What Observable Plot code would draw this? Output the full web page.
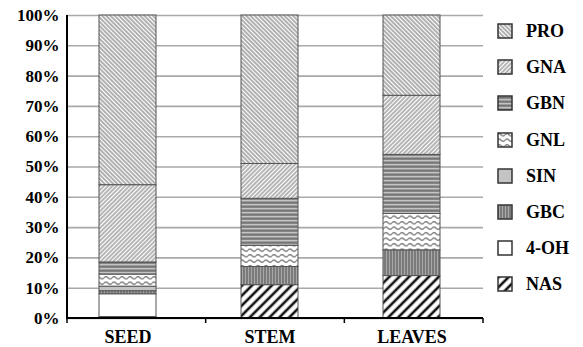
<!DOCTYPE html>
<html>
<head>
<meta charset="utf-8">
<script src="https://cdn.jsdelivr.net/npm/d3@7"></script>
<script src="https://cdn.jsdelivr.net/npm/@observablehq/plot@0.6"></script>
<style>
  html, body { margin: 0; padding: 0; background: #fff; }
  #wrap { position: relative; width: 583px; height: 347px; overflow: hidden; font-family: "Liberation Serif", "Times New Roman", serif; }
  #legend { position: absolute; left: 0; top: 0; }
  .item { position: absolute; display: flex; align-items: center; height: 20px; white-space: nowrap; }
  .item span { font-weight: bold; font-size: 18px; color: #000; margin-left: 13px; line-height: 20px; white-space: nowrap; }
</style>
</head>
<body>
<svg width="0" height="0" style="position:absolute">
  <defs>
    <pattern id="p-PRO" patternUnits="userSpaceOnUse" width="3" height="3" patternTransform="rotate(-45)">
      <rect width="3" height="3" fill="#fff"/>
      <line x1="1" y1="0" x2="1" y2="3" stroke="#707070" stroke-width="1.1"/>
    </pattern>
    <pattern id="p-GNA" patternUnits="userSpaceOnUse" width="3" height="3" patternTransform="rotate(45)">
      <rect width="3" height="3" fill="#fff"/>
      <line x1="1" y1="0" x2="1" y2="3" stroke="#7a7a7a" stroke-width="1.1"/>
    </pattern>
    <pattern id="p-GBN" patternUnits="userSpaceOnUse" width="4" height="4">
      <rect width="4" height="4" fill="#8f8f8f"/>
      <line x1="0" y1="0.7" x2="4" y2="0.7" stroke="#d8d8d8" stroke-width="0.9"/>
      <line x1="0" y1="2.8" x2="4" y2="2.8" stroke="#666" stroke-width="0.9"/>
    </pattern>
    <pattern id="p-GNL" patternUnits="userSpaceOnUse" width="8" height="5.5">
      <rect width="8" height="5.5" fill="#fff"/>
      <path d="M0 2.75 Q2 0.5 4 2.75 T8 2.75" fill="none" stroke="#777" stroke-width="1.3"/>
    </pattern>
    <pattern id="p-SIN" patternUnits="userSpaceOnUse" width="4" height="4">
      <rect width="4" height="4" fill="#c4c4c4"/>
    </pattern>
    <pattern id="p-GBC" patternUnits="userSpaceOnUse" width="3" height="3">
      <rect width="3" height="3" fill="#a8a8a8"/>
      <line x1="1" y1="0" x2="1" y2="3" stroke="#555" stroke-width="1.1"/>
    </pattern>
    <pattern id="p-4-OH" patternUnits="userSpaceOnUse" width="4" height="4">
      <rect width="4" height="4" fill="#fff"/>
    </pattern>
    <pattern id="p-NAS" patternUnits="userSpaceOnUse" width="7" height="7" patternTransform="rotate(45)">
      <rect width="7" height="7" fill="#fff"/>
      <line x1="2" y1="0" x2="2" y2="7" stroke="#111" stroke-width="2.6"/>
    </pattern>
  </defs>
</svg>
<div id="wrap"><div id="chart"></div><div id="legend"></div></div>
<script>
// ---- data ----
const categories = ["SEED", "STEM", "LEAVES"];
const compounds = ["NAS", "4-OH", "GBC", "SIN", "GNL", "GBN", "GNA", "PRO"]; // bottom to top
const seedValues   = [0.5, 7.5, 1, 1.5, 4, 4, 25.5, 56];
const stemValues   = [11, 0, 6, 0, 7, 15.5, 11.5, 49];
const leavesValues = [14, 0, 8.5, 0, 12, 19.5, 19.5, 26.5];
const yTicks = [0, 10, 20, 30, 40, 50, 60, 70, 80, 90, 100];
const yTickLabels = ["0%", "10%", "20%", "30%", "40%", "50%", "60%", "70%", "80%", "90%", "100%"];
const legendOrder = ["PRO", "GNA", "GBN", "GNL", "SIN", "GBC", "4-OH", "NAS"];

const seriesByCategory = [seedValues, stemValues, leavesValues];
const rows = [];
categories.forEach((cat, i) => {
  compounds.forEach((c, j) => {
    const v = seriesByCategory[i][j];
    if (v > 0) rows.push({part: cat, compound: c, value: v});
  });
});
const patternOf = c => `url(#p-${c})`;

// custom axis lines and category ticks (drawn from the plot frame)
function axisLines(index, scales, values, dim) {
  const g = d3.create("svg:g");
  const x0 = dim.marginLeft, x1 = dim.width - dim.marginRight;
  const y0 = dim.marginTop, y1 = dim.height - dim.marginBottom;
  g.append("line").attr("x1", x0).attr("x2", x0).attr("y1", y0).attr("y2", y1 + 1)
    .attr("stroke", "#000").attr("stroke-width", 2);
  g.append("line").attr("x1", x0 - 1).attr("x2", x1).attr("y1", y1).attr("y2", y1)
    .attr("stroke", "#000").attr("stroke-width", 2);
  const n = categories.length;
  for (let i = 0; i <= n; i++) {
    const x = x0 + i * (x1 - x0) / n;
    g.append("line").attr("x1", x).attr("x2", x).attr("y1", y1).attr("y2", y1 + 5)
      .attr("stroke", "#000").attr("stroke-width", 1.5);
  }
  return g.node();
}

const chart = Plot.plot({
  width: 583,
  height: 347,
  marginTop: 15,
  marginBottom: 29,
  marginLeft: 67,
  marginRight: 100,
  style: {fontFamily: "'Liberation Serif', 'Times New Roman', serif", fontWeight: "bold", fontSize: "17px", color: "#000", background: "transparent"},
  x: {domain: categories, paddingInner: 0.6, paddingOuter: 0.255, align: 0.425, label: null},
  y: {domain: [0, 100], label: null},
  color: {type: "ordinal", domain: compounds, range: compounds.map(patternOf), legend: false},
  marks: [
    Plot.ruleY(yTicks, {stroke: "#a9a9a9", strokeWidth: 1.6}),
    Plot.barY(rows, {x: "part", y: "value", fill: "compound", stroke: "#555", strokeWidth: 1, order: compounds}),
    Plot.axisY({ticks: yTicks, tickFormat: d => yTickLabels[yTicks.indexOf(d)], tickSize: 0, tickPadding: 8, label: null, fontSize: 17}),
    Plot.axisX({tickSize: 0, tickPadding: 12, label: null, fontSize: 18}),
    axisLines
  ]
});
document.getElementById("chart").appendChild(chart);

// legend
const legend = d3.select("#legend");
legendOrder.forEach((c, i) => {
  const item = legend.append("div").attr("class", "item")
    .style("left", "497px").style("top", (21 + i * 36.2) + "px");
  const sw = item.append("svg").attr("width", 16).attr("height", 16);
  sw.append("rect").attr("x", 1).attr("y", 1).attr("width", 14).attr("height", 14)
    .attr("fill", patternOf(c)).attr("stroke", "#333").attr("stroke-width", 1.5);
  item.append("span").text(c);
});
</script>
</body>
</html>
